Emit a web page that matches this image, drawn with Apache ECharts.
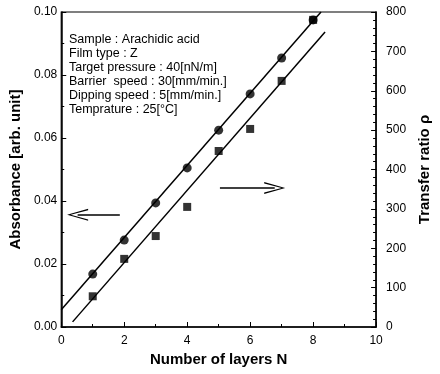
<!DOCTYPE html>
<html>
<head>
<meta charset="utf-8">
<script src="https://cdn.jsdelivr.net/npm/echarts@6/dist/echarts.min.js"></script>
<style>
html, body { margin: 0; background: #fff; }
#chart { width: 440px; height: 374px; }
</style>
</head>
<body>
<div id="chart"></div>
<script>
// values
const layers = [1, 2, 3, 4, 5, 6, 7, 8];
const absorbance = [0.0168, 0.0276, 0.0394, 0.0505, 0.0625, 0.0740, 0.0854, 0.0975];
const transferRatio = [78, 173, 231, 305, 447, 503, 625, 780];
// straight lines as drawn in the figure (two end points each)
const absFitLine = [[0, 0.0055], [8.25, 0.1]];
const ratioFitLine = [[0.36, 13], [8.38, 749]];
// arrows pointing to each axis (from, to)
const leftArrow = [[1.86, 0.0356], [0.52, 0.0356]];
const rightArrow = [[5.04, 353], [6.78, 353]];
const infoLines = [
    'Sample : Arachidic acid',
    'Film type : Z',
    'Target pressure : 40[nN/m]',
    'Barrier  speed : 30[mm/min.]',
    'Dipping speed : 5[mm/min.]',
    'Temprature : 25[\u00B0C]'
];

const font = 'Liberation Sans, Arial, sans-serif';
const chevron = 'path://M6,0 L12,21 L10.6,21 L6,3.6 L1.4,21 L0,21 Z';

function arrowLine(pts) {
    return {
        silent: true,
        symbol: ['none', chevron],
        symbolSize: [12, 21],
        label: { show: false },
        lineStyle: { color: '#000', width: 1.5, type: 'solid' },
        emphasis: { disabled: true },
        animation: false,
        data: [[{ coord: pts[0] }, { coord: pts[1] }]]
    };
}

const chart = echarts.init(document.getElementById('chart'));
chart.setOption({
    animation: false,
    backgroundColor: '#fff',
    textStyle: { fontFamily: font, color: '#000' },
    title: {
        text: infoLines.join('\n'),
        left: 64,
        top: 28,
        textStyle: { fontFamily: font, fontSize: 12.5, fontWeight: 'normal', color: '#000', lineHeight: 14 }
    },
    grid: { left: 56, right: 51, top: 12, bottom: 47, show: true, borderColor: '#000', borderWidth: 1.2 },
    xAxis: {
        type: 'value', min: 0, max: 10, interval: 2,
        name: 'Number of layers N', nameLocation: 'middle', nameGap: 22,
        nameTextStyle: { fontFamily: font, fontSize: 15, fontWeight: 'bold', color: '#000' },
        axisLine: { lineStyle: { color: '#000', width: 1.5 } },
        axisTick: { inside: true, length: 5, lineStyle: { color: '#000' } },
        minorTick: { show: true, splitNumber: 2, length: 3, lineStyle: { color: '#000' } },
        splitLine: { show: false },
        axisLabel: { margin: 8, fontSize: 12, color: '#000', fontFamily: font }
    },
    yAxis: [{
        type: 'value', min: 0, max: 0.1, interval: 0.02,
        name: 'Absorbance [arb. unit]', nameLocation: 'middle', nameGap: 34,
        nameTextStyle: { fontFamily: font, fontSize: 15, fontWeight: 'bold', color: '#000' },
        axisLine: { show: true, lineStyle: { color: '#000', width: 1.5 } },
        axisTick: { show: true, inside: true, length: 5, lineStyle: { color: '#000' } },
        minorTick: { show: true, splitNumber: 2, length: 3, lineStyle: { color: '#000' } },
        splitLine: { show: false },
        axisLabel: { margin: 4, fontSize: 12, color: '#000', fontFamily: font, formatter: v => v.toFixed(2) }
    }, {
        type: 'value', min: 0, max: 800, interval: 100, position: 'right',
        name: 'Transfer ratio \u03C1', nameLocation: 'middle', nameGap: 30, nameRotate: 90,
        nameTextStyle: { fontFamily: font, fontSize: 15, fontWeight: 'bold', color: '#000' },
        axisLine: { show: true, lineStyle: { color: '#000', width: 1.5 } },
        axisTick: { show: true, inside: true, length: 5, lineStyle: { color: '#000' } },
        minorTick: { show: true, splitNumber: 5, length: 3, lineStyle: { color: '#000' } },
        splitLine: { show: false },
        axisLabel: { margin: 10, fontSize: 12, color: '#000', fontFamily: font }
    }],
    series: [{
        type: 'line', yAxisIndex: 0, data: absFitLine,
        symbol: 'none', lineStyle: { color: '#000', width: 1.5 }, silent: true,
        markLine: arrowLine(leftArrow)
    }, {
        type: 'line', yAxisIndex: 1, data: ratioFitLine,
        symbol: 'none', lineStyle: { color: '#000', width: 1.5 }, silent: true,
        markLine: arrowLine(rightArrow)
    }, {
        type: 'scatter', yAxisIndex: 0,
        data: layers.map((n, i) => [n, absorbance[i]]),
        symbol: 'circle', symbolSize: 9, itemStyle: { color: '#000' }
    }, {
        type: 'scatter', yAxisIndex: 1,
        data: layers.map((n, i) => [n, transferRatio[i]]),
        symbol: 'rect', symbolSize: 8, itemStyle: { color: '#000' }
    }]
});
</script>
</body>
</html>
